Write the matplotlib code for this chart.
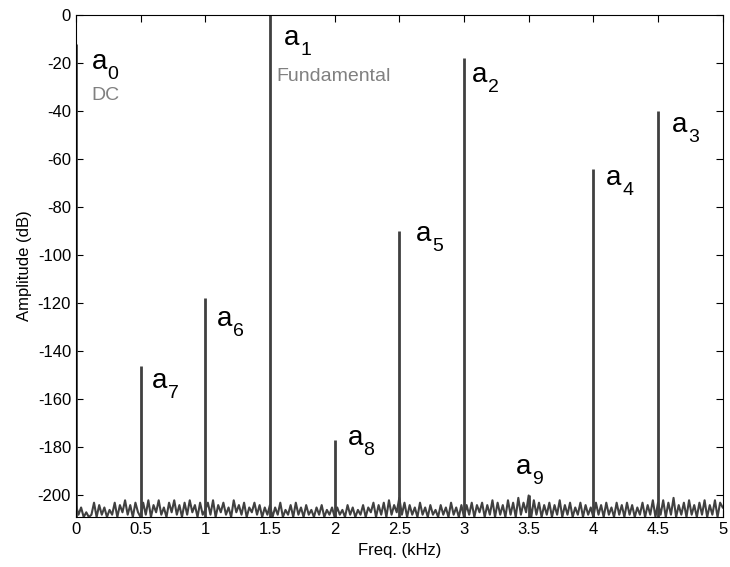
import numpy as np
import matplotlib
matplotlib.use('Agg')
import matplotlib.pyplot as plt

plt.rcParams['font.family'] = ['Liberation Sans', 'DejaVu Sans']
plt.rcParams['axes.unicode_minus'] = False

# noise floor, 0.02 kHz step (0..5 kHz)
noise_db = [
    -204, -208, -205, -209, -207, -209, -208, -203, -209, -204, -208, -205, -209, -206, -208, -203, -209, -204, -207, -202, -208, -204, -209, -203, -207,
    -209, -203, -208, -202, -209, -204, -207, -202, -208, -205, -209, -203, -207, -202, -208, -204, -209, -203, -208, -202, -207, -204, -209, -203, -208,
    -206, -203, -208, -202, -209, -204, -207, -203, -208, -205, -209, -202, -207, -204, -208, -203, -209, -205, -207, -203, -208, -204, -209, -205, -208,
    -204, -209, -205, -208, -203, -209, -206, -208, -204, -209, -203, -208, -205, -209, -204, -208, -206, -209, -205, -208, -204, -209, -206, -208, -205,
    -209, -205, -208, -206, -209, -204, -208, -205, -209, -206, -208, -204, -209, -205, -207, -203, -209, -204, -208, -203, -209, -202, -208, -204, -207,
    -201, -208, -203, -209, -204, -208, -205, -209, -203, -208, -205, -209, -204, -208, -206, -209, -204, -208, -205, -209, -203, -208, -205, -209, -204,
    -209, -204, -208, -203, -209, -204, -207, -203, -209, -204, -208, -202, -209, -203, -208, -204, -209, -202, -208, -203, -209, -201, -208, -203, -207,
    -200, -209, -202, -208, -203, -209, -204, -208, -203, -209, -204, -208, -202, -209, -204, -208, -203, -209, -205, -208, -203, -209, -204, -208, -205,
    -209, -203, -208, -204, -209, -203, -208, -205, -209, -203, -208, -204, -209, -203, -208, -204, -209, -205, -208, -203, -209, -204, -208, -202, -209,
    -203, -208, -202, -209, -203, -208, -201, -209, -204, -208, -203, -209, -202, -208, -204, -209, -203, -208, -202, -209, -204, -208, -202, -209, -203, -205,
]
noise_f = np.linspace(0, 5, len(noise_db))

# harmonic peaks
peak_f = [0.0, 1.5, 3.0, 4.5, 4.0, 2.5, 1.0, 0.5, 2.0, 3.5]
peak_db = [-12, 0, -18, -40, -64, -90, -118, -146, -177, -200]
peak_idx = ['0', '1', '2', '3', '4', '5', '6', '7', '8', '9']
label_x = [0.12, 1.61, 3.06, 4.61, 4.10, 2.63, 1.09, 0.59, 2.10, 3.40]
label_y = [-22.5, -12.5, -27.9, -48.7, -70.8, -94.2, -129.6, -155.4, -179, -191]

ymin = -209
col = '#404040'

fig = plt.figure(figsize=(7.3, 5.67), dpi=100)
ax = fig.add_axes([0.104, 0.088, 0.886, 0.886])

ax.plot(noise_f, noise_db, color=col, lw=1.5)
ax.vlines(peak_f, ymin, peak_db, color=col, lw=2)

for k, x, y in zip(peak_idx, label_x, label_y):
    ax.text(x, y, 'a', fontsize=20, color='black', ha='left', va='baseline')
    ax.annotate(k, (x, y), xytext=(11.5, -7), textcoords='offset points',
                fontsize=14, color='black', ha='left', va='baseline')
ax.text(0.12, -35.4, 'DC', fontsize=14, color='#808080', ha='left', va='baseline')
ax.text(1.55, -27.5, 'Fundamental', fontsize=14, color='#808080', ha='left', va='baseline')

ax.set_xlim(0, 5)
ax.set_ylim(ymin, 0)
ax.set_xticks(np.arange(0, 5.01, 0.5))
ax.set_xticklabels(['0', '0.5', '1', '1.5', '2', '2.5', '3', '3.5', '4', '4.5', '5'])
ax.set_yticks(np.arange(-200, 1, 20))
ax.tick_params(direction='in', top=True, right=True, length=5, labelsize=12, width=0.8)
ax.set_xlabel('Freq. (kHz)', fontsize=12)
ax.set_ylabel('Amplitude (dB)', fontsize=12)
for s in ax.spines.values():
    s.set_linewidth(0.8)

fig.savefig('out.png', dpi=100)
